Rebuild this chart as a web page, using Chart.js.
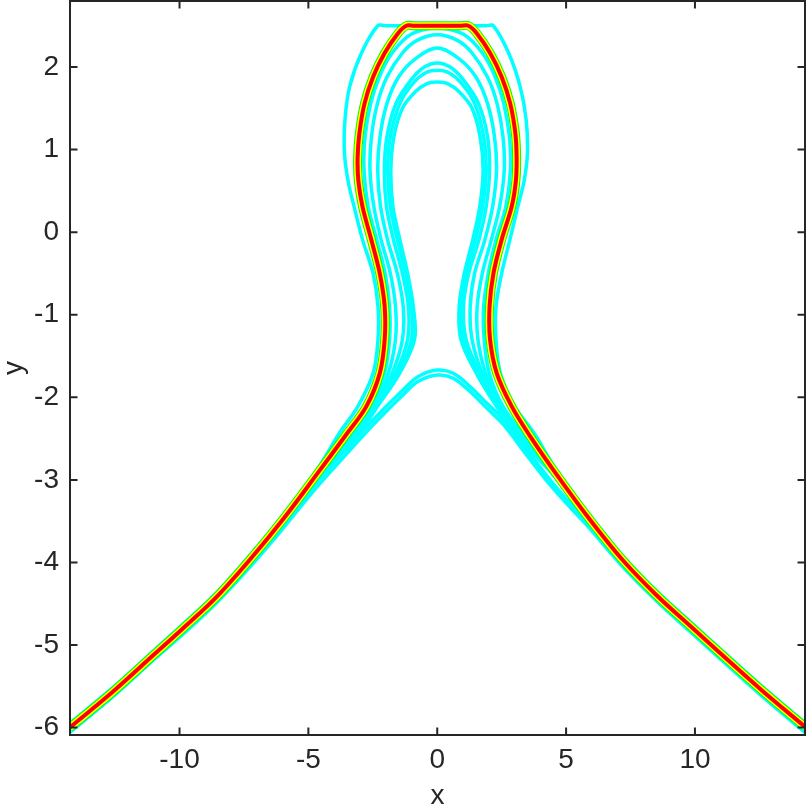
<!DOCTYPE html>
<html>
<head>
<meta charset="utf-8">
<script src="https://cdn.jsdelivr.net/npm/chart.js@4.4.1/dist/chart.umd.min.js"></script>
<style>
  html, body { margin: 0; padding: 0; background: #fff; }
  canvas { display: block; }
</style>
</head>
<body>
<canvas id="chart" width="808" height="805"></canvas>
<script>
const xTicks = [-10, -5, 0, 5, 10];
const yTicks = [-6, -5, -4, -3, -2, -1, 0, 1, 2];

// main curve (drawn red on yellow on green)
const redCurve = [[-14.26,-6.00],[-12.6,-5.57],[-10.97,-5.11],[-9.87,-4.80],[-8.57,-4.42],[-7.28,-3.97],[-5.99,-3.48],[-4.69,-2.94],[-3.53,-2.45],[-2.75,-2.11],[-2.23,-1.71],[-2.04,-1.30],[-2.04,-0.90],[-2.23,-0.50],[-2.56,-0.09],[-2.90,0.31],[-3.06,0.62],[-3.09,0.90],[-3.02,1.20],[-2.82,1.56],[-2.49,1.88],[-2.04,2.17],[-1.52,2.41],[-1.20,2.50],[-0.9,2.50],[0.9,2.50],[1.21,2.50],[1.53,2.41],[2.05,2.17],[2.50,1.88],[2.83,1.56],[3.03,1.20],[3.08,0.90],[3.05,0.62],[2.89,0.31],[2.50,-0.09],[2.18,-0.50],[2.03,-0.90],[2.05,-1.30],[2.31,-1.71],[2.89,-2.11],[3.60,-2.47],[4.62,-2.93],[5.92,-3.48],[7.22,-3.98],[8.52,-4.40],[9.82,-4.77],[10.95,-5.09],[12.6,-5.55],[14.27,-5.99]];

// cyan trajectories
const cyanOuter = [[-14.26,-5.95],[-12.6,-5.52],[-10.97,-5.06],[-9.87,-4.75],[-8.57,-4.37],[-7.28,-3.92],[-5.99,-3.43],[-4.69,-2.89],[-3.79,-2.43],[-3.08,-2.11],[-2.49,-1.71],[-2.30,-1.30],[-2.30,-0.90],[-2.49,-0.50],[-2.90,-0.09],[-3.22,0.30],[-3.46,0.62],[-3.60,0.96],[-3.58,1.36],[-3.40,1.76],[-2.94,2.17],[-2.31,2.50],[-2.0,2.50],[1.9,2.50],[2.18,2.50],[2.77,2.17],[3.22,1.76],[3.45,1.36],[3.50,0.96],[3.37,0.62],[3.12,0.30],[2.82,-0.09],[2.50,-0.50],[2.28,-0.90],[2.28,-1.30],[2.45,-1.71],[3.00,-2.11],[3.75,-2.43],[4.62,-2.88],[5.92,-3.43],[7.22,-3.93],[8.52,-4.35],[9.82,-4.72],[10.95,-5.04],[12.6,-5.50],[14.27,-5.94]];

const cyanLoopA = [[-14.26,-6.05],[-12.6,-5.62],[-10.97,-5.16],[-9.87,-4.85],[-8.57,-4.47],[-7.28,-4.02],[-5.99,-3.53],[-4.69,-2.99],[-3.50,-2.51],[-2.55,-2.11],[-2.05,-1.71],[-1.85,-1.30],[-1.85,-0.90],[-2.02,-0.50],[-2.35,-0.09],[-2.68,0.31],[-2.84,0.75],[-2.80,1.16],[-2.58,1.56],[-2.25,1.88],[-1.75,2.17],[-1.0,2.40],[0,2.47],[1.0,2.40],[1.75,2.17],[2.25,1.88],[2.58,1.56],[2.80,1.16],[2.84,0.75],[2.66,0.31],[2.28,-0.09],[1.98,-0.50],[1.80,-0.90],[1.82,-1.30],[2.02,-1.71],[2.55,-2.11],[3.48,-2.51],[4.62,-2.98],[5.92,-3.53],[7.22,-4.03],[8.52,-4.45],[9.82,-4.82],[10.95,-5.14],[12.6,-5.60],[14.27,-6.04]];

const cyanLoopB = [[-14.26,-6.05],[-12.6,-5.62],[-10.97,-5.16],[-9.87,-4.85],[-8.57,-4.47],[-7.28,-4.02],[-5.99,-3.53],[-4.69,-2.99],[-3.45,-2.51],[-2.48,-2.11],[-1.90,-1.71],[-1.62,-1.30],[-1.62,-0.90],[-1.82,-0.50],[-2.18,-0.09],[-2.46,0.31],[-2.61,0.75],[-2.55,1.16],[-2.32,1.56],[-1.95,1.88],[-1.35,2.17],[-0.8,2.32],[0,2.39],[0.8,2.32],[1.35,2.17],[1.95,1.88],[2.32,1.56],[2.55,1.16],[2.60,0.75],[2.42,0.31],[2.10,-0.09],[1.75,-0.50],[1.55,-0.90],[1.58,-1.30],[1.88,-1.71],[2.48,-2.11],[3.42,-2.51],[4.62,-2.98],[5.92,-3.53],[7.22,-4.03],[8.52,-4.45],[9.82,-4.82],[10.95,-5.14],[12.6,-5.60],[14.27,-6.04]];

const cyanLoopC = [[-14.26,-6.05],[-12.6,-5.62],[-10.97,-5.16],[-9.87,-4.85],[-8.57,-4.47],[-7.28,-4.02],[-5.99,-3.53],[-4.69,-2.99],[-3.40,-2.51],[-2.43,-2.11],[-1.75,-1.71],[-1.35,-1.30],[-1.32,-0.90],[-1.55,-0.50],[-1.93,-0.09],[-2.20,0.31],[-2.31,0.75],[-2.22,1.16],[-1.95,1.56],[-1.50,1.88],[-0.85,2.10],[0,2.23],[0.85,2.10],[1.50,1.88],[1.95,1.56],[2.22,1.16],[2.30,0.75],[2.15,0.31],[1.85,-0.09],[1.45,-0.50],[1.28,-0.90],[1.35,-1.30],[1.75,-1.71],[2.43,-2.11],[3.38,-2.51],[4.62,-2.98],[5.92,-3.53],[7.22,-4.03],[8.52,-4.45],[9.82,-4.82],[10.95,-5.14],[12.6,-5.60],[14.27,-6.04]];

const cyanLoopD = [[-14.26,-6.05],[-12.6,-5.62],[-10.97,-5.16],[-9.87,-4.85],[-8.57,-4.47],[-7.28,-4.02],[-5.99,-3.53],[-4.69,-2.99],[-3.35,-2.51],[-2.40,-2.11],[-1.62,-1.71],[-1.15,-1.30],[-1.12,-0.90],[-1.35,-0.50],[-1.70,-0.09],[-1.97,0.31],[-2.05,0.75],[-1.95,1.16],[-1.60,1.56],[-1.0,1.85],[-0.5,2.00],[0,2.05],[0.5,2.00],[1.0,1.85],[1.60,1.56],[1.95,1.16],[2.03,0.75],[1.90,0.31],[1.62,-0.09],[1.22,-0.50],[1.02,-0.90],[1.12,-1.30],[1.65,-1.71],[2.38,-2.11],[3.32,-2.51],[4.62,-2.98],[5.92,-3.53],[7.22,-4.03],[8.52,-4.45],[9.82,-4.82],[10.95,-5.14],[12.6,-5.60],[14.27,-6.04]];

const cyanLoopE = [[-14.26,-6.05],[-12.6,-5.62],[-10.97,-5.16],[-9.87,-4.85],[-8.57,-4.47],[-7.28,-4.02],[-5.99,-3.53],[-4.69,-2.99],[-3.28,-2.51],[-2.36,-2.11],[-1.52,-1.71],[-1.00,-1.30],[-1.00,-0.90],[-1.22,-0.50],[-1.55,-0.09],[-1.82,0.31],[-1.92,0.75],[-1.82,1.16],[-1.45,1.56],[-0.95,1.80],[-0.45,1.93],[0,1.96],[0.45,1.93],[0.95,1.80],[1.45,1.56],[1.80,1.16],[1.90,0.75],[1.76,0.31],[1.48,-0.09],[1.12,-0.50],[0.90,-0.90],[1.00,-1.30],[1.58,-1.71],[2.34,-2.11],[3.26,-2.51],[4.62,-2.98],[5.92,-3.53],[7.22,-4.03],[8.52,-4.45],[9.82,-4.82],[10.95,-5.14],[12.6,-5.60],[14.27,-6.04]];

const cyanLoopF = [[-14.26,-6.05],[-12.6,-5.62],[-10.97,-5.16],[-9.87,-4.85],[-8.57,-4.47],[-7.28,-4.02],[-5.99,-3.53],[-4.69,-2.99],[-3.20,-2.51],[-2.32,-2.11],[-1.46,-1.71],[-0.88,-1.30],[-0.93,-0.90],[-1.15,-0.50],[-1.45,-0.09],[-1.72,0.31],[-1.80,0.75],[-1.68,1.16],[-1.35,1.50],[-0.85,1.70],[-0.4,1.80],[0,1.82],[0.4,1.80],[0.85,1.70],[1.35,1.50],[1.66,1.16],[1.78,0.75],[1.65,0.31],[1.38,-0.09],[1.05,-0.50],[0.85,-0.90],[0.92,-1.30],[1.52,-1.71],[2.30,-2.11],[3.20,-2.51],[4.62,-2.98],[5.92,-3.53],[7.22,-4.03],[8.52,-4.45],[9.82,-4.82],[10.95,-5.14],[12.6,-5.60],[14.27,-6.04]];

const cyanArchA = [[-14.26,-6.05],[-12.6,-5.62],[-10.97,-5.16],[-9.87,-4.85],[-8.57,-4.47],[-7.28,-4.03],[-5.99,-3.55],[-4.95,-3.13],[-3.91,-2.76],[-2.75,-2.36],[-2.04,-2.13],[-1.39,-1.93],[-0.75,-1.75],[0,-1.67],[0.63,-1.71],[1.27,-1.87],[1.92,-2.07],[2.57,-2.27],[3.40,-2.61],[4.43,-3.02],[5.21,-3.30],[5.92,-3.55],[7.22,-4.03],[8.52,-4.45],[9.82,-4.82],[10.95,-5.14],[12.6,-5.60],[14.27,-6.04]];

const cyanArchB = [[-14.26,-6.06],[-12.6,-5.63],[-10.97,-5.17],[-9.87,-4.87],[-8.57,-4.49],[-7.28,-4.06],[-5.99,-3.59],[-4.95,-3.19],[-3.91,-2.82],[-2.75,-2.42],[-2.04,-2.19],[-1.39,-1.99],[-0.75,-1.81],[0,-1.73],[0.63,-1.77],[1.27,-1.93],[1.92,-2.13],[2.57,-2.33],[3.40,-2.67],[4.43,-3.08],[5.21,-3.35],[5.92,-3.59],[7.22,-4.06],[8.52,-4.47],[9.82,-4.84],[10.95,-5.16],[12.6,-5.62],[14.27,-6.06]];

const cyanCurves = [cyanOuter, cyanLoopA, cyanLoopB, cyanLoopC, cyanLoopD, cyanLoopE, cyanLoopF, cyanArchA, cyanArchB];

const axisColor = "#262626";
const fontFamily = "'Liberation Sans', Arial, sans-serif";

function toPoints(arr) {
  return arr.map(p => ({ x: p[0], y: p[1] }));
}

function line(arr, color, width) {
  return {
    data: toPoints(arr),
    showLine: true,
    borderColor: color,
    borderWidth: width,
    pointRadius: 0,
    tension: 0.35,
    fill: false,
    clip: 0
  };
}

// first dataset is painted last, so red goes on top
const datasets = [
  line(redCurve, "#ff0000", 4),
  line(redCurve, "#ffff00", 7),
  line(redCurve, "#00ff00", 9)
].concat(cyanCurves.map(c => line(c, "#00ffff", 3.5)));

const boxPlugin = {
  id: "box",
  afterDatasetsDraw(chart) {
    const { ctx, chartArea: a, scales } = chart;
    const tl = 7.5;
    ctx.save();
    ctx.strokeStyle = axisColor;
    ctx.lineWidth = 2;
    ctx.beginPath();
    xTicks.forEach(v => {
      const p = scales.x.getPixelForValue(v);
      ctx.moveTo(p, a.bottom); ctx.lineTo(p, a.bottom - tl);
      ctx.moveTo(p, a.top); ctx.lineTo(p, a.top + tl);
    });
    yTicks.forEach(v => {
      const p = scales.y.getPixelForValue(v);
      ctx.moveTo(a.left, p); ctx.lineTo(a.left + tl, p);
      ctx.moveTo(a.right, p); ctx.lineTo(a.right - tl, p);
    });
    ctx.stroke();
    ctx.strokeRect(a.left, a.top, a.right - a.left, a.bottom - a.top);
    ctx.restore();
  }
};

new Chart(document.getElementById("chart"), {
  type: "scatter",
  data: { datasets },
  plugins: [boxPlugin],
  options: {
    responsive: false,
    animation: false,
    events: [],
    layout: { padding: { left: 0, top: 1, right: 3, bottom: 0 } },
    plugins: { legend: { display: false }, tooltip: { enabled: false } },
    scales: {
      x: {
        type: "linear",
        min: -14.25,
        max: 14.27,
        afterBuildTicks: s => { s.ticks = xTicks.map(v => ({ value: v })); },
        afterFit: s => { s.height = 70; s.paddingLeft = 0; s.paddingRight = 0; },
        grid: { display: false },
        border: { display: false },
        ticks: { color: axisColor, font: { family: fontFamily, size: 28 }, padding: 0, maxRotation: 0, autoSkip: false },
        title: { display: true, text: "x", color: axisColor, font: { family: fontFamily, size: 28, lineHeight: 0.65 }, padding: 0 }
      },
      y: {
        type: "linear",
        min: -6.09,
        max: 2.8,
        afterBuildTicks: s => { s.ticks = yTicks.map(v => ({ value: v })); },
        afterFit: s => { s.width = 70; s.paddingTop = 0; s.paddingBottom = 0; },
        grid: { display: false },
        border: { display: false },
        ticks: { color: axisColor, font: { family: fontFamily, size: 28 }, padding: 3, autoSkip: false },
        title: { display: true, text: "y", color: axisColor, font: { family: fontFamily, size: 28, lineHeight: 1 }, padding: 0 }
      }
    }
  }
});
</script>
</body>
</html>
